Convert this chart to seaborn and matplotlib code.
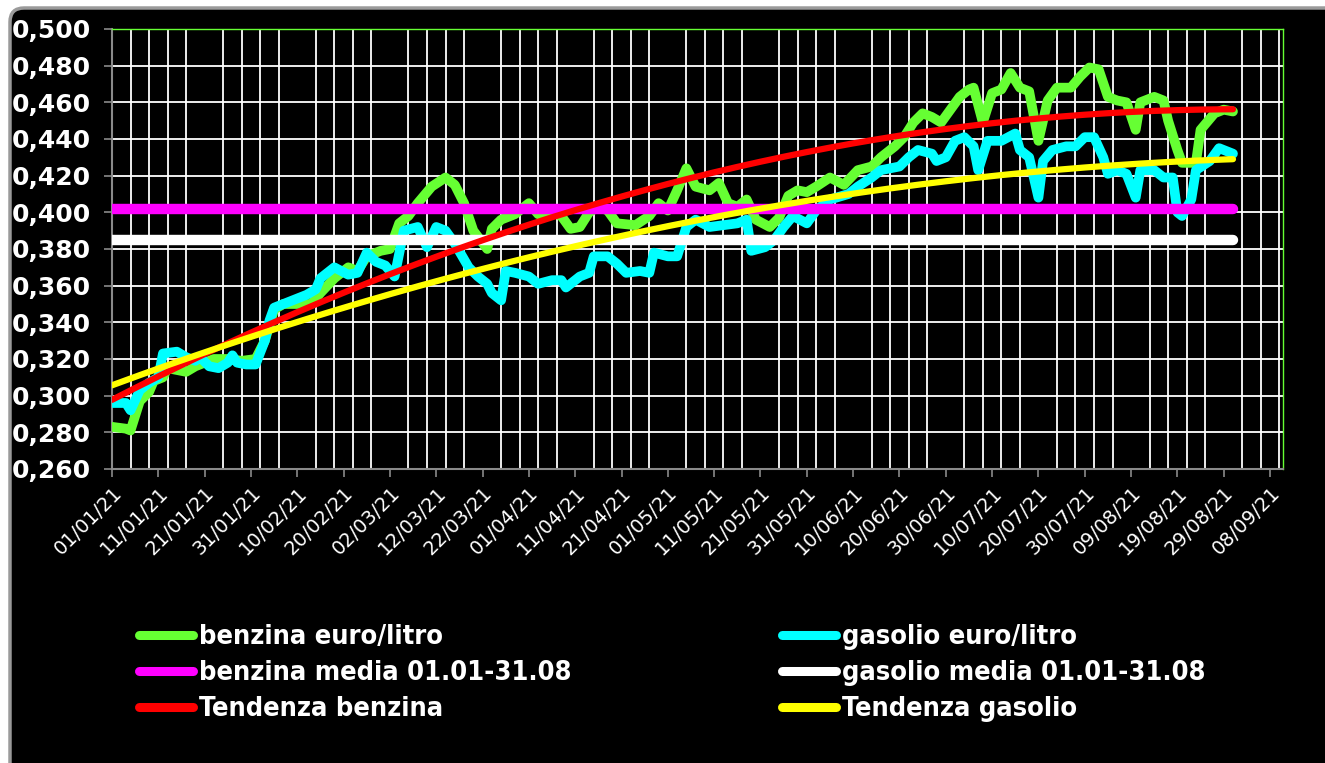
import numpy as np
import pandas as pd
import matplotlib
matplotlib.use("Agg")
import matplotlib.pyplot as plt
import matplotlib.dates as mdates
from matplotlib.patches import FancyBboxPatch
from matplotlib.transforms import IdentityTransform
from matplotlib.lines import Line2D
from matplotlib.ticker import FixedLocator, FuncFormatter
from matplotlib import font_manager
import seaborn as sns

# ---------------- data ----------------
START = "2021-01-01"

benz_days = [0, 3, 4, 6, 8, 9, 11, 12, 14, 16, 18, 20, 22, 25, 28, 31, 33, 35, 37, 40,
             43, 45, 48, 51, 53, 55, 58, 60, 62, 64, 66, 69, 72, 74, 76, 78, 81, 82, 84, 87,
             90, 92, 95, 97, 99, 101, 103, 105, 107, 109, 113, 116, 118, 120, 122, 124, 126, 129, 131, 133,
             135, 137, 139, 142, 144, 146, 148, 150, 152, 155, 158, 161, 164, 166, 169, 171, 173, 175, 177, 179,
             181, 183, 185, 186, 188, 190, 192, 194, 196, 198, 200, 202, 204, 207, 209, 211, 213, 215, 217, 219,
             221, 222, 225, 227, 228, 230, 231, 234, 235, 238, 240, 242]
benz_vals = [0.283, 0.282, 0.281, 0.297, 0.302, 0.308, 0.310, 0.315, 0.314, 0.313, 0.316, 0.318, 0.320, 0.320, 0.319, 0.320, 0.330, 0.347, 0.350, 0.350,
             0.350, 0.356, 0.364, 0.370, 0.368, 0.376, 0.379, 0.380, 0.394, 0.398, 0.405, 0.414, 0.419, 0.415, 0.405, 0.390, 0.380, 0.391, 0.396, 0.399,
             0.405, 0.399, 0.400, 0.398, 0.391, 0.392, 0.400, 0.403, 0.401, 0.394, 0.393, 0.398, 0.405, 0.401, 0.412, 0.424, 0.414, 0.412, 0.416, 0.405,
             0.403, 0.407, 0.396, 0.392, 0.397, 0.409, 0.412, 0.411, 0.414, 0.419, 0.415, 0.423, 0.425, 0.430, 0.436, 0.441, 0.449, 0.454, 0.452, 0.449,
             0.456, 0.463, 0.467, 0.468, 0.449, 0.465, 0.467, 0.476, 0.468, 0.466, 0.439, 0.461, 0.468, 0.468, 0.474, 0.479, 0.478, 0.463, 0.461, 0.460,
             0.445, 0.460, 0.463, 0.461, 0.450, 0.434, 0.427, 0.427, 0.445, 0.454, 0.456, 0.455]

gas_days = [0, 3, 4, 6, 8, 10, 11, 14, 16, 18, 19, 21, 23, 25, 26, 27, 29, 31, 33, 34,
            35, 38, 40, 42, 44, 45, 48, 51, 53, 55, 57, 59, 61, 63, 66, 68, 70, 72, 74, 77,
            79, 81, 82, 84, 85, 87, 90, 92, 95, 97, 98, 101, 103, 104, 107, 109, 111, 114, 116, 117,
            120, 122, 124, 126, 129, 132, 135, 137, 138, 141, 143, 145, 147, 150, 152, 155, 159, 161, 164, 166,
            170, 172, 174, 177, 178, 180, 182, 184, 186, 187, 189, 192, 195, 196, 198, 200, 201, 203, 206, 208,
            210, 212, 214, 215, 217, 219, 221, 222, 225, 227, 229, 230, 231, 233, 234, 237, 239, 242]
gas_vals = [0.296, 0.296, 0.292, 0.303, 0.307, 0.310, 0.323, 0.324, 0.321, 0.319, 0.321, 0.316, 0.315, 0.318, 0.322, 0.318, 0.317, 0.317, 0.330, 0.341,
            0.348, 0.351, 0.353, 0.355, 0.358, 0.364, 0.370, 0.366, 0.367, 0.378, 0.373, 0.371, 0.365, 0.390, 0.392, 0.381, 0.392, 0.390, 0.383, 0.370,
            0.365, 0.361, 0.356, 0.352, 0.368, 0.367, 0.365, 0.361, 0.363, 0.363, 0.359, 0.365, 0.367, 0.376, 0.376, 0.372, 0.367, 0.368, 0.367, 0.378,
            0.376, 0.376, 0.392, 0.396, 0.392, 0.393, 0.394, 0.396, 0.379, 0.381, 0.385, 0.392, 0.398, 0.394, 0.401, 0.407, 0.410, 0.414, 0.419, 0.423,
            0.425, 0.430, 0.434, 0.432, 0.428, 0.430, 0.439, 0.441, 0.436, 0.423, 0.439, 0.439, 0.443, 0.434, 0.430, 0.408, 0.428, 0.434, 0.436, 0.436,
            0.441, 0.441, 0.430, 0.421, 0.423, 0.421, 0.408, 0.423, 0.423, 0.419, 0.419, 0.400, 0.398, 0.407, 0.423, 0.428, 0.435, 0.432]

benz_mean = 0.402
gas_mean = 0.385
mean_span = ["2021-01-01", "2021-08-31"]

labels = ["benzina euro/litro", "benzina media 01.01-31.08", "Tendenza benzina",
          "gasolio euro/litro", "gasolio media 01.01-31.08", "Tendenza gasolio"]

y_ticks = [0.260, 0.280, 0.300, 0.320, 0.340, 0.360, 0.380, 0.400, 0.420, 0.440, 0.460, 0.480, 0.500]
x_tick_dates = pd.date_range("2021-01-01", "2021-09-08", freq="10D")

# ---------------- frames ----------------
start = pd.Timestamp(START)
def to_dates(days):
    return start + pd.to_timedelta(np.asarray(days, dtype=float), unit="D")

benz = pd.DataFrame({"date": to_dates(benz_days), "val": benz_vals})
gas = pd.DataFrame({"date": to_dates(gas_days), "val": gas_vals})
span = pd.to_datetime(mean_span)
benz_m = pd.DataFrame({"date": span, "val": [benz_mean, benz_mean]})
gas_m = pd.DataFrame({"date": span, "val": [gas_mean, gas_mean]})

# polynomial (order 2) trend lines fitted on the series
fit_days = np.arange(0, (span[1] - span[0]).days + 1)
tb = np.polyval(np.polyfit(benz_days, benz_vals, 2), fit_days)
tg = np.polyval(np.polyfit(gas_days, gas_vals, 2), fit_days)
benz_t = pd.DataFrame({"date": to_dates(fit_days), "val": tb})
gas_t = pd.DataFrame({"date": to_dates(fit_days), "val": tg})

# ---------------- colours ----------------
GREEN = "#66ff33"
CYAN = "#00ffff"
MAGENTA = "#ff00ff"
WHITE = "#ffffff"
RED = "#ff0000"
YELLOW = "#ffff00"

# ---------------- figure ----------------
sns.set_style("dark")
plt.rcParams["font.family"] = ["DejaVu Sans"]

W, H = 1325, 763
fig = plt.figure(figsize=(W / 100, H / 100), dpi=100, facecolor="white")

box = FancyBboxPatch((10, -30), 1330, 784 - 10 - 9 + 20, boxstyle="round,pad=0,rounding_size=14",
                     transform=IdentityTransform(), facecolor="black", edgecolor="#9a9a9a",
                     linewidth=2.5, zorder=-10)
fig.patches.append(box)

L, R, T, B = 112, 1283, 29, 469
ax = fig.add_axes([L / W, 1 - B / H, (R - L) / W, (B - T) / H])
ax.set_zorder(1)
ax.set_facecolor("black")

kw = dict(solid_capstyle="round", solid_joinstyle="round", legend=False)
sns.lineplot(data=benz, x="date", y="val", color=GREEN, lw=7, ax=ax, zorder=3, **kw)
sns.lineplot(data=gas, x="date", y="val", color=CYAN, lw=7, ax=ax, zorder=4, **kw)
sns.lineplot(data=benz_m, x="date", y="val", color=MAGENTA, lw=7.5, ax=ax, zorder=5, **kw)
sns.lineplot(data=gas_m, x="date", y="val", color=WHITE, lw=7.5, ax=ax, zorder=5, **kw)
sns.lineplot(data=benz_t, x="date", y="val", color=RED, lw=4.5, ax=ax, zorder=6, **kw)
sns.lineplot(data=gas_t, x="date", y="val", color=YELLOW, lw=4.5, ax=ax, zorder=7, **kw)

ax.set_xlabel("")
ax.set_ylabel("")
ax.set_ylim(0.260, 0.500)
ax.set_xlim(start, start + pd.Timedelta(days=252.8))

ax.yaxis.set_major_locator(FixedLocator(y_ticks))
ax.yaxis.set_major_formatter(FuncFormatter(lambda v, p: f"{v:.3f}".replace(".", ",")))
ax.xaxis.set_major_locator(FixedLocator(mdates.date2num(x_tick_dates)))
ax.xaxis.set_major_formatter(mdates.DateFormatter("%d/%m/%y"))
minor = pd.date_range(start, start + pd.Timedelta(days=252), freq="4D")
ax.xaxis.set_minor_locator(FixedLocator(mdates.date2num(minor)))

ax.grid(False)
ax.grid(True, axis="y", which="major", color="white", lw=1.3, zorder=1)
ax.grid(True, axis="x", which="minor", color="white", lw=1.3, zorder=1)
ax.set_axisbelow(True)

ax.tick_params(axis="y", which="major", left=True, length=6, width=1.2, color="#8a8a8a",
               labelsize=18, labelcolor="white", pad=9)
for t in ax.get_yticklabels():
    t.set_fontweight("bold")
ax.tick_params(axis="x", which="major", bottom=True, length=6, width=1.2, color="#8a8a8a",
               labelsize=14, labelcolor="white", pad=4)
ax.tick_params(axis="x", which="minor", bottom=False, length=0)
for t in ax.get_xticklabels():
    t.set_rotation(45)
    t.set_ha("right")
    t.set_va("top")
    t.set_rotation_mode("anchor")

for s in ["left", "bottom"]:
    ax.spines[s].set_color("#8a8a8a")
    ax.spines[s].set_linewidth(1.5)
for s in ["top", "right"]:
    ax.spines[s].set_color(GREEN)
    ax.spines[s].set_linewidth(1.0)

# ---------------- legend ----------------
cond = any(f.name == "DejaVu Sans" and f.stretch == "condensed" for f in font_manager.fontManager.ttflist)
names = {f.name for f in font_manager.fontManager.ttflist}
if cond:
    lprop = dict(family="DejaVu Sans", stretch="condensed", weight="bold", size=19.5)
elif "Liberation Sans Narrow" in names:
    lprop = dict(family="Liberation Sans Narrow", weight="bold", size=21)
else:
    lprop = dict(family="DejaVu Sans", weight="bold", size=16.5)

def handle(c):
    return Line2D([0], [0], color=c, lw=6.5, solid_capstyle="round")

col1 = [handle(GREEN), handle(MAGENTA), handle(RED)]
col2 = [handle(CYAN), handle(WHITE), handle(YELLOW)]
for hs, labs, x0 in [(col1, labels[0:3], 139), (col2, labels[3:6], 782)]:
    lg = fig.legend(handles=hs, labels=labs, loc="upper left",
                    bbox_to_anchor=(x0 / W, 1 - 624 / H), frameon=False,
                    borderpad=0, borderaxespad=0, handlelength=2.0, handletextpad=0.2,
                    labelspacing=0.37, prop=lprop, labelcolor="white")

fig.savefig("out.png", dpi=100, facecolor="white")
